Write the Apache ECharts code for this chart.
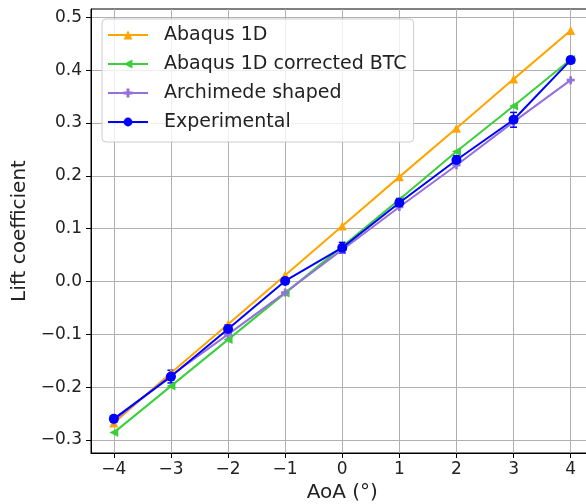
<!DOCTYPE html>
<html>
<head>
<meta charset="utf-8">
<script src="https://cdn.jsdelivr.net/npm/echarts@6/dist/echarts.min.js"></script>
<style>html,body{margin:0;padding:0;background:#fff}#c{width:586px;height:504px}</style>
</head>
<body>
<div id="c"></div>
<script>
const aoa = [-4, -3, -2, -1, 0, 1, 2, 3, 4];
const abaqus1D = [-0.268, -0.173, -0.081, 0.012, 0.105, 0.198, 0.290, 0.383, 0.475];
const abaqusBTC = [-0.286, -0.198, -0.110, -0.022, 0.066, 0.155, 0.246, 0.332, 0.420];
const archimede = [-0.263, -0.178, -0.100, -0.021, 0.060, 0.141, 0.220, 0.302, 0.381];
const experimental = [-0.260, -0.180, -0.090, 0.001, 0.064, 0.149, 0.230, 0.306, 0.419];
const expErr = [0.006, 0.012, 0.008, 0.005, 0.010, 0.008, 0.008, 0.014, 0.006];
const xTicks = [-4, -3, -2, -1, 0, 1, 2, 3, 4];
const yTicks = [-0.3, -0.2, -0.1, 0.0, 0.1, 0.2, 0.3, 0.4, 0.5];
const seriesNames = ['Abaqus 1D', 'Abaqus 1D corrected BTC', 'Archimede shaped', 'Experimental'];

const FONT = 'DejaVu Sans';
const pairs = ys => aoa.map((x, i) => [x, ys[i]]);
const minus = s => String(s).replace('-', '\u2212');
const plusPath = 'path://M1,0H2V1H3V2H2V3H1V2H0V1H1Z';

const chart = echarts.init(document.getElementById('c'), null, {renderer: 'canvas'});
const lineSeries = (name, ys, color, symbol, rot, size) => ({
  name, type: 'line', data: pairs(ys), symbol, symbolSize: size, symbolRotate: rot,
  lineStyle: {color, width: 2}, itemStyle: {color}, showSymbol: true, animation: false,
  emphasis: {disabled: true}
});

chart.setOption({
  animation: false,
  textStyle: {fontFamily: FONT},
  grid: {left: 91, top: 9, width: 502.5, height: 444, containLabel: false, outerBoundsMode: 'none',
         show: true, borderColor: '#000', borderWidth: 1, backgroundColor: 'transparent'},
  legend: {
    data: seriesNames, orient: 'vertical', left: 102, top: 19,
    padding: [6, 7, 10, 5], itemWidth: 40, itemHeight: 11, itemGap: 9,
    backgroundColor: 'rgba(255,255,255,0.8)', borderColor: '#cccccc', borderWidth: 1, borderRadius: 4,
    textStyle: {fontFamily: FONT, fontSize: 19, lineHeight: 20, color: '#222', padding: [0, 0, 0, 11]}
  },
  xAxis: {
    type: 'value', min: -4.4, max: 4.4,
    name: 'AoA (°)', nameLocation: 'middle', nameGap: 30,
    nameTextStyle: {fontFamily: FONT, fontSize: 20, color: '#222'},
    axisLine: {show: true, onZero: false, lineStyle: {color: '#000', width: 1}},
    axisTick: {show: true, inside: false, length: 5, customValues: xTicks, lineStyle: {color: '#000'}},
    axisLabel: {customValues: xTicks, margin: 8, fontSize: 17, color: '#222', fontFamily: FONT,
                formatter: v => minus(v)},
    splitLine: {show: true, lineStyle: {color: '#b0b0b0', width: 1}}
  },
  yAxis: {
    type: 'value', min: -0.3246, max: 0.5157,
    name: 'Lift coefficient', nameLocation: 'middle', nameGap: 56, nameRotate: 90,
    nameTextStyle: {fontFamily: FONT, fontSize: 20, color: '#222'},
    axisLine: {show: true, onZero: false, lineStyle: {color: '#000', width: 1}},
    axisTick: {show: true, inside: false, length: 5, customValues: yTicks, lineStyle: {color: '#000'}},
    axisLabel: {customValues: yTicks, margin: 9, fontSize: 17, color: '#222', fontFamily: FONT,
                formatter: v => minus(v.toFixed(1))},
    splitLine: {show: true, lineStyle: {color: '#b0b0b0', width: 1}}
  },
  series: [
    lineSeries(seriesNames[0], abaqus1D, '#ffa500', 'triangle', 0, 9),
    lineSeries(seriesNames[1], abaqusBTC, '#3ccf3c', 'triangle', 90, 9),
    lineSeries(seriesNames[2], archimede, '#9370db', plusPath, 0, 8),
    {
      name: 'errbar', type: 'custom', animation: false, silent: true, z: 3,
      data: aoa.map((x, i) => [x, experimental[i], expErr[i]]),
      renderItem: (params, api) => {
        const x = api.value(0), y = api.value(1), e = api.value(2);
        const top = api.coord([x, y + e]);
        const bot = api.coord([x, y - e]);
        const cw = 3.5;
        const style = {stroke: '#0000ff', lineWidth: 1.5};
        return {type: 'group', children: [
          {type: 'line', shape: {x1: top[0], y1: top[1], x2: bot[0], y2: bot[1]}, style},
          {type: 'line', shape: {x1: top[0] - cw, y1: top[1], x2: top[0] + cw, y2: top[1]}, style},
          {type: 'line', shape: {x1: bot[0] - cw, y1: bot[1], x2: bot[0] + cw, y2: bot[1]}, style}
        ]};
      }
    },
    Object.assign(lineSeries(seriesNames[3], experimental, '#0000ff', 'circle', 0, 10), {z: 4})
  ]
});
</script>
</body>
</html>
